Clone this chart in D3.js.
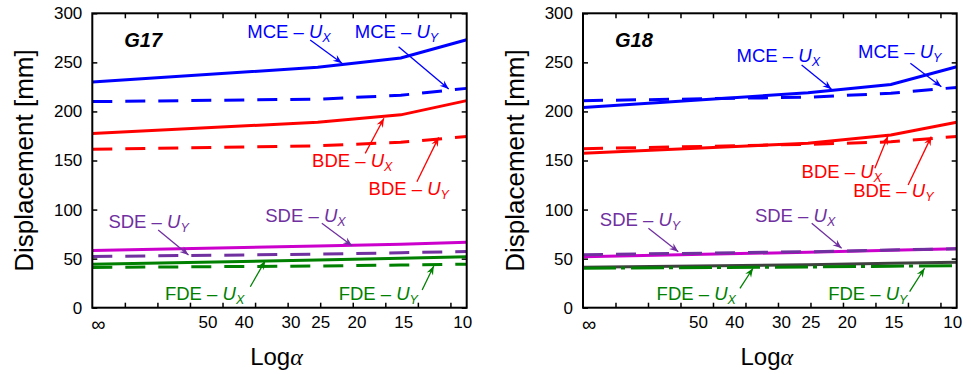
<!DOCTYPE html>
<html lang="en">
<head>
<meta charset="utf-8">
<title>Displacement vs Log alpha</title>
<script src="https://cdn.jsdelivr.net/npm/d3@7/dist/d3.min.js"></script>
<style>
  body { margin: 0; background: #fff; }
  text { font-family: "Liberation Sans", Arial, Helvetica, sans-serif; }
</style>
</head>
<body>
<script>
// alpha at each vertex of the curves (Infinity = the unbraced end)
var alphas = [Infinity, 25, 15, 10];
var tickAlphas = [50, 40, 30, 25, 20, 15, 10];
var tickLabels = ["50", "40", "30", "25", "20", "15", "10"];
var yTicks = [0, 50, 100, 150, 200, 250, 300];

// G17 displacements [mm]
var g17MceUx = [230, 245, 254.5, 273];
var g17MceUy = [210, 212.5, 216.5, 223.5];
var g17BdeUx = [177.5, 189, 196.5, 211];
var g17BdeUy = [161.5, 165, 168.5, 174.5];
var g17SdeUx = [58.3, 62.8, 64.6, 66.8];
var g17SdeUy = [52.2, 54.5, 56, 57.3];
var g17FdeUx = [44.4, 48.6, 50.3, 51.9];
var g17FdeUy = [41, 42.5, 43.5, 44.4];

// G18 displacements [mm]
var g18MceUx = [204, 219, 227.5, 245.5];
var g18MceUy = [211, 214.5, 218.5, 224.5];
var g18BdeUx = [157.5, 167.5, 176, 189];
var g18BdeUy = [162, 166.5, 169, 174.5];
var g18SdeUx = [52, 56.5, 58.5, 60];
var g18SdeUy = [54, 57, 58.8, 60];
var g18FdeUx = [41.2, 43.8, 45.2, 46.3];
var g18FdeUy = [40.2, 41.5, 42.3, 42.8];

var blue = "#0000ff", red = "#ff0000", magenta = "#cc00cc", purple = "#7030a0",
    green = "#008000", gray = "#404040";
var dashed = "20,13", dashDot = "33,5,4,6";

var w = 971, h = 374;
var plotTop = 13.3, plotBottom = 307.7;

var svg = d3.select("body").append("svg")
    .attr("width", w)
    .attr("height", h);

function pos(a) { return a === Infinity ? 2 : Math.log10(a); }

function drawPanel(left, right, title, series, notes) {
    var x = d3.scaleLinear().domain([2, 1]).range([left, right]);
    var tickX = d3.scaleLinear().domain([0, 11.5]).range([left, right]);
    var y = d3.scaleLinear().domain([0, 300]).range([plotBottom, plotTop]);

    var g = svg.append("g");

    // ticks (inward, on all four sides)
    var minor = d3.range(1, 12);
    g.append("g").attr("transform", "translate(0," + plotBottom + ")")
        .call(d3.axisBottom(tickX).tickValues(minor).tickSize(-5).tickFormat(""));
    g.append("g").attr("transform", "translate(0," + plotTop + ")")
        .call(d3.axisTop(tickX).tickValues(minor).tickSize(-5).tickFormat(""));
    g.append("g").attr("transform", "translate(" + left + ",0)")
        .call(d3.axisLeft(y).tickValues(yTicks).tickSize(-5).tickPadding(10))
        .selectAll("text").style("font-size", "17px").attr("fill", "#000");
    g.append("g").attr("transform", "translate(" + right + ",0)")
        .call(d3.axisRight(y).tickValues(yTicks).tickSize(-5).tickFormat(""));
    g.selectAll(".domain").remove();
    g.selectAll(".tick line").attr("stroke", "#000").attr("stroke-width", 1.5);

    // x labels
    g.selectAll("text.xl").data(tickAlphas).enter().append("text")
        .attr("class", "xl")
        .attr("x", function(d) { return Math.min(x(pos(d)) + 3, right - 4); })
        .attr("y", 328)
        .attr("text-anchor", "middle")
        .style("font-size", "17px")
        .text(function(d, i) { return tickLabels[i]; });
    g.append("text")
        .attr("x", x(pos(Infinity)) - 1)
        .attr("y", 331)
        .style("font-size", "20px")
        .text("\u221e");

    // curves
    var line = d3.line()
        .x(function(d, i) { return x(pos(alphas[i])); })
        .y(function(d) { return y(d); });
    g.selectAll("path.curve").data(series).enter().append("path")
        .attr("class", "curve")
        .attr("d", function(s) { return line(s.values); })
        .attr("fill", "none")
        .attr("stroke", function(s) { return s.color; })
        .attr("stroke-width", 3)
        .attr("stroke-dasharray", function(s) { return s.dash || null; });

    // box
    g.append("rect")
        .attr("x", left).attr("y", plotTop)
        .attr("width", right - left).attr("height", plotBottom - plotTop)
        .attr("fill", "none").attr("stroke", "#000").attr("stroke-width", 2);

    // title
    g.append("text")
        .attr("x", left + 32).attr("y", 46.5)
        .style("font-size", "20px").style("font-weight", "bold").style("font-style", "italic")
        .text(title);

    // annotations
    notes.forEach(function(n) {
        var t = g.append("text")
            .attr("x", x(n.t[0])).attr("y", y(n.t[1]))
            .attr("fill", n.color)
            .style("font-size", "18.5px");
        t.append("tspan").text(n.label + " \u2013 ");
        t.append("tspan").style("font-style", "italic").text("U");
        t.append("tspan").style("font-style", "italic").style("font-size", "12.5px")
            .attr("dy", 4).text(n.sub);

        var x1 = x(n.a[0]), y1 = y(n.a[1]), x2 = x(n.b[0]), y2 = y(n.b[1]);
        g.append("line")
            .attr("x1", x1).attr("y1", y1).attr("x2", x2).attr("y2", y2)
            .attr("stroke", n.color).attr("stroke-width", 1.3);
        var len = Math.sqrt((x2 - x1) * (x2 - x1) + (y2 - y1) * (y2 - y1));
        var ux = (x2 - x1) / len, uy = (y2 - y1) / len;
        var pts = [
            [x2, y2],
            [x2 - 9 * ux + 3.5 * uy, y2 - 9 * uy - 3.5 * ux],
            [x2 - 6 * ux, y2 - 6 * uy],
            [x2 - 9 * ux - 3.5 * uy, y2 - 9 * uy + 3.5 * ux]
        ];
        g.append("path")
            .attr("d", "M" + pts.join("L") + "Z")
            .attr("fill", n.color);
    });

    // axis titles
    g.append("text")
        .attr("transform", "translate(" + (left - 59) + "," + ((plotTop + plotBottom) / 2) + ") rotate(-90)")
        .attr("text-anchor", "middle")
        .style("font-size", "26px")
        .text("Displacement [mm]");
    var xt = g.append("text")
        .attr("x", (left + right) / 2 - 3).attr("y", 365)
        .attr("text-anchor", "middle")
        .style("font-size", "24px");
    xt.append("tspan").text("Log");
    xt.append("tspan").style("font-family", "'Liberation Serif', serif")
        .style("font-style", "italic").text("\u03b1");
}

drawPanel(92.3, 466.7, "G17", [
    {values: g17MceUy, color: blue, dash: dashed},
    {values: g17MceUx, color: blue},
    {values: g17BdeUy, color: red, dash: dashed},
    {values: g17BdeUx, color: red},
    {values: g17SdeUx, color: magenta},
    {values: g17SdeUy, color: purple, dash: dashed},
    {values: g17FdeUx, color: green},
    {values: g17FdeUy, color: green, dash: dashed}
], [
    {label: "MCE", sub: "X", color: blue,   t: [1.586, 274.5], a: [1.418, 272.8], b: [1.333, 249.1]},
    {label: "MCE", sub: "Y", color: blue,   t: [1.299, 274.8], a: [1.182, 266.0], b: [1.048, 222.9]},
    {label: "BDE", sub: "X", color: red,    t: [1.413, 143.7], a: [1.271, 157.3], b: [1.221, 193.0]},
    {label: "BDE", sub: "Y", color: red,    t: [1.262, 114.8], a: [1.133, 128.4], b: [1.075, 173.6]},
    {label: "SDE", sub: "Y", color: purple, t: [1.957, 80.9],  a: [1.824, 79.2],  b: [1.743, 53.7]},
    {label: "SDE", sub: "X", color: purple, t: [1.538, 87.6],  a: [1.387, 86.0],  b: [1.306, 63.2]},
    {label: "FDE", sub: "X", color: green,  t: [1.806, 7.8],   a: [1.578, 21.4],  b: [1.538, 47.9]},
    {label: "FDE", sub: "Y", color: green,  t: [1.342, 7.8],   a: [1.119, 18.0],  b: [1.088, 42.5]}
]);

drawPanel(583, 956.7, "G18", [
    {values: g18MceUy, color: blue, dash: dashed},
    {values: g18MceUx, color: blue},
    {values: g18BdeUy, color: red, dash: dashed},
    {values: g18BdeUx, color: red},
    {values: g18SdeUx, color: magenta},
    {values: g18SdeUy, color: purple, dash: dashed},
    {values: g18FdeUx, color: gray},
    {values: g18FdeUy, color: green, dash: dashDot}
], [
    {label: "MCE", sub: "X", color: blue,   t: [1.589, 250.7], a: [1.415, 247.3], b: [1.335, 222.6]},
    {label: "MCE", sub: "Y", color: blue,   t: [1.264, 254.2], a: [1.124, 249.1], b: [1.041, 225.2]},
    {label: "BDE", sub: "X", color: red,    t: [1.415, 131.9], a: [1.219, 142.1], b: [1.184, 175.0]},
    {label: "BDE", sub: "Y", color: red,    t: [1.277, 113.1], a: [1.130, 125.0], b: [1.068, 174.3]},
    {label: "SDE", sub: "Y", color: purple, t: [1.955, 83.3],  a: [1.825, 80.9],  b: [1.745, 57.1]},
    {label: "SDE", sub: "X", color: purple, t: [1.540, 87.6],  a: [1.388, 86.0],  b: [1.308, 60.5]},
    {label: "FDE", sub: "X", color: green,  t: [1.803, 7.8],   a: [1.580, 19.8],  b: [1.545, 40.2]},
    {label: "FDE", sub: "Y", color: green,  t: [1.344, 7.8],   a: [1.126, 16.3],  b: [1.086, 40.2]}
]);
</script>
</body>
</html>
